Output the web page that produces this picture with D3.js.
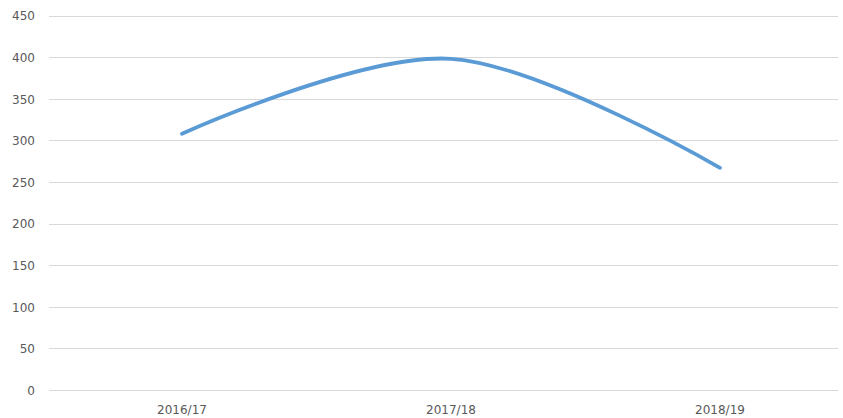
<!DOCTYPE html>
<html>
<head>
<meta charset="utf-8">
<script src="https://cdn.jsdelivr.net/npm/d3@7"></script>
<style>
  body { margin: 0; background: #fff; }
  svg { display: block; }
  .tick text { font-family: "DejaVu Sans", sans-serif; font-size: 12px; fill: #595959; }
</style>
</head>
<body>
<div id="chart"></div>
<script>
"use strict";

const years = ["2016/17", "2017/18", "2018/19"];
const values = [308, 398, 267];
const yTicks = [0, 50, 100, 150, 200, 250, 300, 350, 400, 450];

const svgWidth = 843;
const svgHeight = 418;
const gridLeft = 49;
const gridRight = 838;

const svg = d3.select("#chart")
  .append("svg")
  .attr("width", svgWidth)
  .attr("height", svgHeight);

const xScale = d3.scaleBand()
  .domain(years)
  .range([47.5, 854.5]);

const yScale = d3.scaleLinear()
  .domain([0, 450])
  .range([390, 15.5]);

// gridlines
svg.append("g")
  .selectAll("line")
  .data(yTicks)
  .enter()
  .append("line")
  .attr("x1", gridLeft)
  .attr("x2", gridRight)
  .attr("y1", d => Math.round(yScale(d)) + 0.5)
  .attr("y2", d => Math.round(yScale(d)) + 0.5)
  .attr("stroke", "#d9d9d9")
  .attr("stroke-width", 1.2);

const yAxis = d3.axisLeft(yScale)
  .tickValues(yTicks)
  .tickSize(0)
  .tickPadding(0);

svg.append("g")
  .attr("transform", "translate(35, 0)")
  .call(yAxis)
  .call(g => g.select(".domain").remove())
  .selectAll("text")
  .attr("dy", "0.36em");

const xAxis = d3.axisBottom(xScale)
  .tickSize(0)
  .tickPadding(0);

svg.append("g")
  .attr("transform", "translate(0, 405)")
  .call(xAxis)
  .call(g => g.select(".domain").remove());

const line = d3.line()
  .x((d, i) => xScale(years[i]) + xScale.bandwidth() / 2)
  .y(d => yScale(d))
  .curve(d3.curveCardinal.tension(0));

svg.append("path")
  .datum(values)
  .attr("d", line)
  .attr("fill", "none")
  .attr("stroke", "#5b9bd5")
  .attr("stroke-width", 3.8)
  .attr("stroke-linecap", "round");
</script>
</body>
</html>
